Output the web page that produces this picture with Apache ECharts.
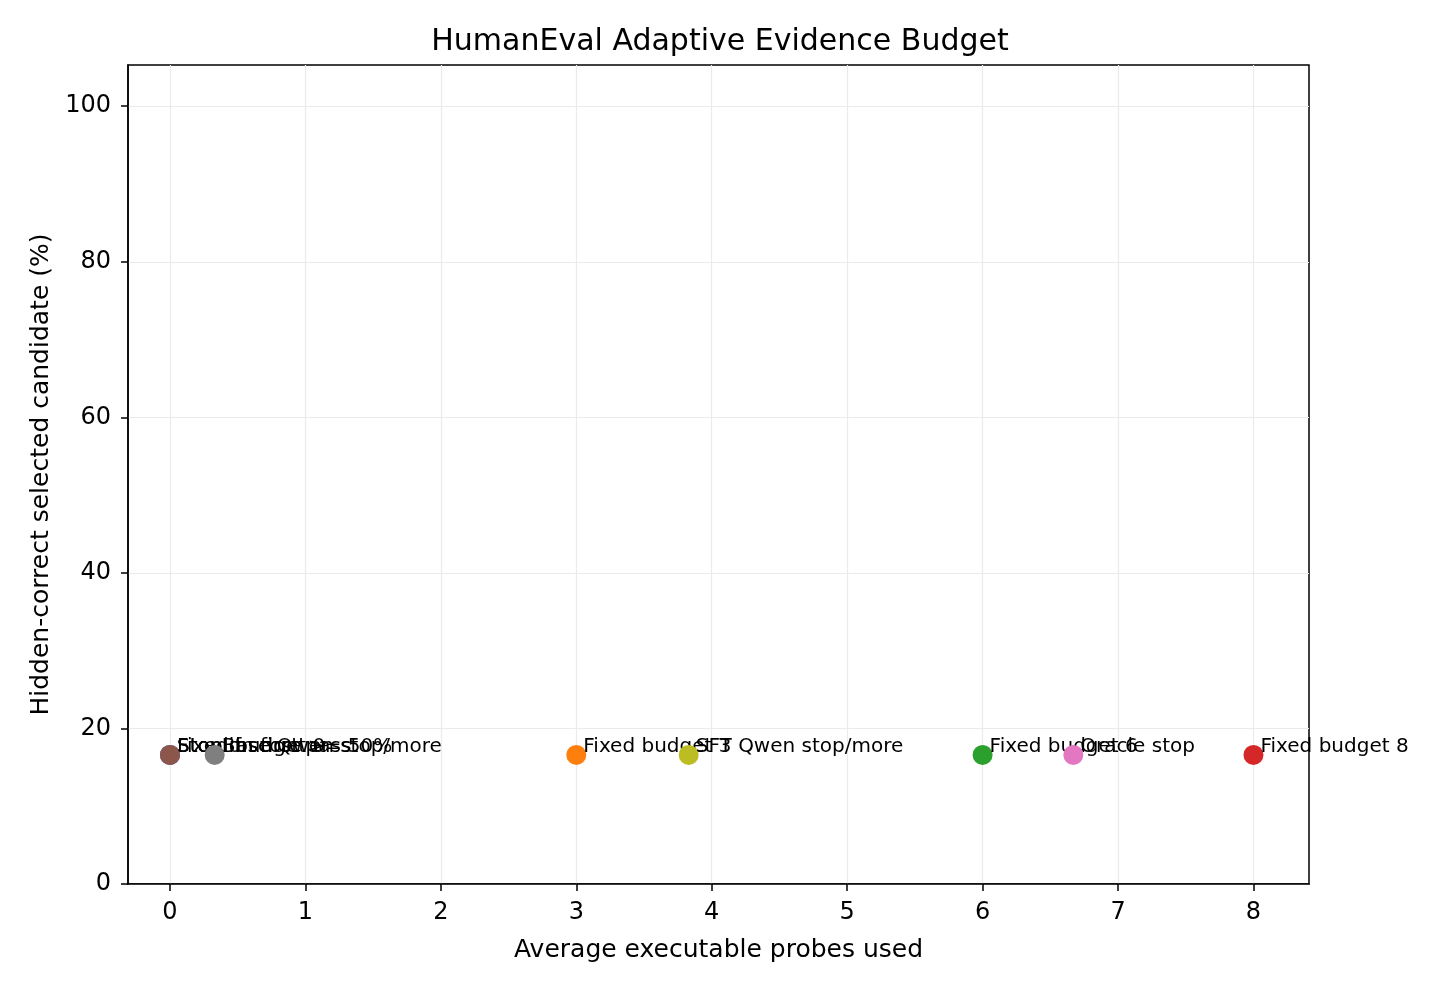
<!DOCTYPE html>
<html>
<head>
    <meta charset="UTF-8">
    <title>HumanEval Adaptive Evidence Budget</title>
    <script src="https://cdn.jsdelivr.net/npm/echarts@6/dist/echarts.min.js"></script>
    <style>
        body { margin: 0; background: #fff; }
    </style>
</head>
<body>
    <div id="main" style="width:1440px;height:990px;"></div>
    <script type="text/javascript">
        // policies, in plotting order (later ones are drawn on top)
        var policies = ['Fixed budget 0', 'Fixed budget 3', 'Fixed budget 6', 'Fixed budget 8',
            'Stop on first pass', 'Stop if score >= 50%', 'Oracle stop',
            'Base Qwen stop/more', 'SFT Qwen stop/more'];
        var avgProbes = [0, 3, 6, 8, 0, 0, 6.67, 0.33, 3.83];
        var hiddenCorrect = [16.6, 16.6, 16.6, 16.6, 16.6, 16.6, 16.6, 16.6, 16.6];
        var xTicks = [0, 1, 2, 3, 4, 5, 6, 7, 8];
        var yTicks = [0, 20, 40, 60, 80, 100];

        // matplotlib tab10
        var palette = ['#1f77b4', '#ff7f0e', '#2ca02c', '#d62728', '#9467bd',
            '#8c564b', '#e377c2', '#7f7f7f', '#bcbd22', '#17becf'];

        var font = 'DejaVu Sans';
        var myChart = echarts.init(document.getElementById('main'));

        var series = [];
        for (var i = 0; i < policies.length; i++) {
            series.push({
                name: policies[i],
                type: 'scatter',
                symbolSize: 20,
                z: 3 + i,
                itemStyle: { color: palette[i], opacity: 1 },
                label: {
                    show: true,
                    formatter: policies[i],
                    position: [17, 2],
                    align: 'left',
                    verticalAlign: 'middle',
                    fontFamily: font,
                    fontSize: 20,
                    color: '#000'
                },
                data: [[avgProbes[i], hiddenCorrect[i]]]
            });
        }

        var gridLine = { show: true, lineStyle: { color: '#ebebeb', width: 1.2 } };

        myChart.setOption({
            animation: false,
            title: {
                text: 'HumanEval Adaptive Evidence Budget',
                left: 'center',
                top: 22,
                textStyle: { fontFamily: font, fontSize: 30, fontWeight: 'normal', color: '#000' }
            },
            grid: {
                left: 128, right: 131, top: 65, bottom: 106,
                show: true, borderColor: '#000', borderWidth: 1.5
            },
            xAxis: {
                type: 'value',
                min: -0.31,
                max: 8.41,
                name: 'Average executable probes used',
                nameLocation: 'middle',
                nameGap: 54,
                nameTextStyle: { fontFamily: font, fontSize: 25, color: '#000' },
                axisLine: { show: true, onZero: false, lineStyle: { color: '#000', width: 1.5 } },
                axisTick: { show: true, inside: false, length: 7, customValues: xTicks, lineStyle: { color: '#000', width: 1.5 } },
                axisLabel: { customValues: xTicks, fontFamily: font, fontSize: 24, color: '#000', margin: 17 },
                splitLine: gridLine
            },
            yAxis: {
                type: 'value',
                min: 0,
                max: 105.3,
                name: 'Hidden-correct selected candidate (%)',
                nameLocation: 'middle',
                nameGap: 74,
                nameTextStyle: { fontFamily: font, fontSize: 25, color: '#000' },
                axisLine: { show: true, onZero: false, lineStyle: { color: '#000', width: 1.5 } },
                axisTick: { show: true, inside: false, length: 7, customValues: yTicks, lineStyle: { color: '#000', width: 1.5 } },
                axisLabel: { customValues: yTicks, fontFamily: font, fontSize: 24, color: '#000', margin: 17 },
                splitLine: gridLine
            },
            series: series
        });
    </script>
</body>
</html>
